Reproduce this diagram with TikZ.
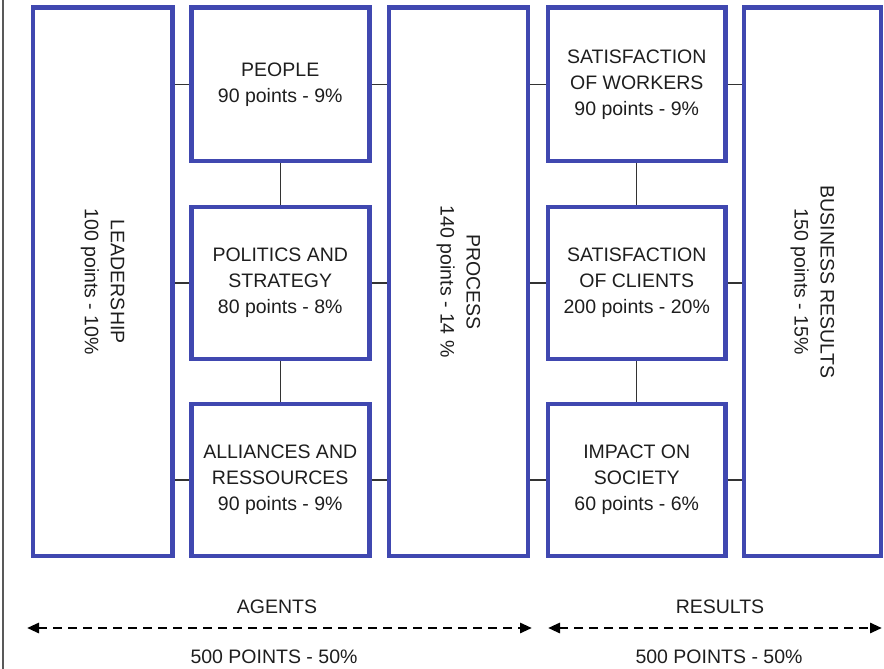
\documentclass[tikz,border=0pt]{standalone}
\usepackage{fontspec}
\setmainfont{Liberation Sans}
\usetikzlibrary{arrows.meta}
\definecolor{boxblue}{RGB}{64,72,176}
\definecolor{txt}{RGB}{30,30,30}
\begin{document}
\begin{tikzpicture}[x=1pt,y=-1pt,
  box/.style={draw=boxblue, line width=4.5pt, inner sep=0pt, align=center, text=txt, font=\fontsize{19.5}{26}\selectfont},
  midbox/.style={box, minimum width=178pt, minimum height=152pt},
  tallbox/.style={box, minimum height=548.5pt},
  link/.style={draw=black!80, line width=1.2pt},
  span/.style={line width=2.8pt, dash pattern=on 9pt off 6pt, {Triangle[length=12pt,width=10pt]}-{Triangle[length=12pt,width=10pt]}},
  lbl/.style={text=txt, align=center, inner sep=0pt, font=\fontsize{19.5}{26}\selectfont}]
\useasboundingbox (0,0) rectangle (884,669);
\draw[black!65, line width=1.5pt] (3,0) -- (3,669);

% tall boxes
\node[tallbox, minimum width=139.5pt] (lead) at (102.75,281.75) {};
\node[tallbox, minimum width=139pt] (proc) at (458.5,281.75) {};
\node[tallbox, minimum width=137pt] (bus) at (812.5,281.75) {};
\node[lbl, rotate=-90] (leadt) at (lead.center) {LEADERSHIP\\100 points - 10\%};
\node[lbl, rotate=-90] (proct) at (proc.center) {PROCESS\\140 points - 14 \%};
\node[lbl, rotate=-90] (bust) at (bus.center) {BUSINESS RESULTS\\150 points - 15\%};

% middle boxes, left
\node[midbox, minimum height=153.5pt] (people) at (280.25,84.25) {PEOPLE\\90 points - 9\%};
\node[midbox] (polit) at (280.25,283) {POLITICS AND\\STRATEGY\\80 points - 8\%};
\node[midbox] (alli) at (280.25,480) {ALLIANCES AND\\RESSOURCES\\90 points - 9\%};

% middle boxes, right
\node[midbox, minimum width=177.5pt, minimum height=153.5pt] (work) at (636.75,84.25) {SATISFACTION\\OF WORKERS\\90 points - 9\%};
\node[midbox, minimum width=177.5pt] (client) at (636.75,283) {SATISFACTION\\OF CLIENTS\\200 points - 20\%};
\node[midbox, minimum width=177.5pt] (impact) at (636.75,480) {IMPACT ON\\SOCIETY\\60 points - 6\%};

% horizontal links
\foreach \m/\n in {people/work, polit/client, alli/impact}{
  \draw[link] (\m.west) -- (\m.west -| lead.east);
  \draw[link] (\m.east) -- (\m.east -| proc.west);
  \draw[link] (\n.west) -- (\n.west -| proc.east);
  \draw[link] (\n.east) -- (\n.east -| bus.west);
}
% vertical links
\draw[link] (people.south) -- (polit.north);
\draw[link] (polit.south) -- (alli.north);
\draw[link] (work.south) -- (client.north);
\draw[link] (client.south) -- (impact.north);

% bottom spans
\coordinate (a1) at (27,628);
\coordinate (a2) at (532,628);
\coordinate (r1) at (548,628);
\coordinate (r2) at (882,628);
\draw[span] (a1) -- (a2);
\draw[span] (r1) -- (r2);
\node[lbl] (agents) at (277,607) {AGENTS};
\node[lbl] (results) at (720,607) {RESULTS};
\node[lbl] (agpts) at (274,657) {500 POINTS - 50\%};
\node[lbl] (respts) at (719,657) {500 POINTS - 50\%};
\end{tikzpicture}
\end{document}
